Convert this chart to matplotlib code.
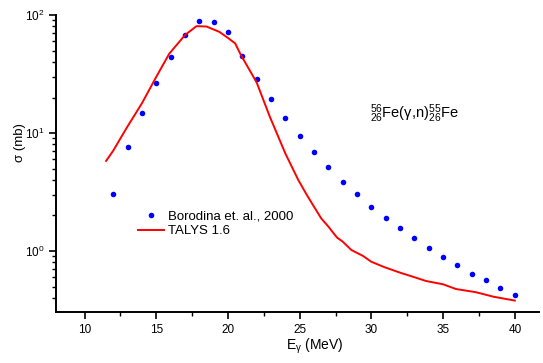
import numpy as np
import matplotlib
matplotlib.use("Agg")
import matplotlib.pyplot as plt
from matplotlib.ticker import LogLocator, MultipleLocator, NullFormatter

plt.rcParams['font.family'] = ['Liberation Sans', 'DejaVu Sans']
plt.rcParams['mathtext.fontset'] = 'custom'
plt.rcParams['mathtext.rm'] = 'Liberation Sans'
plt.rcParams['mathtext.it'] = 'Liberation Sans:italic'
plt.rcParams['mathtext.default'] = 'regular'

# Experimental data (Borodina et al., 2000)
exp_energy = [12, 13, 14, 15, 16, 17, 18, 19, 20, 21, 22, 23, 24, 25, 26,
              27, 28, 29, 30, 31, 32, 33, 34, 35, 36, 37, 38, 39, 40]
exp_sigma = [3.02, 7.57, 14.9, 26.4, 44.3, 67.7, 89.0, 86.7, 71.3, 45.0,
             28.9, 19.4, 13.4, 9.49, 6.9, 5.15, 3.87, 3.02, 2.37, 1.91,
             1.56, 1.28, 1.06, 0.895, 0.757, 0.643, 0.564, 0.483, 0.421]

# TALYS 1.6 calculation
talys_energy = [11.5, 12.0, 12.9, 14.0, 15.0, 15.9, 17.0, 17.8, 18.5, 19.4,
                20.0, 20.5, 20.9, 21.5, 22.0, 22.9, 24.0, 24.9, 25.5, 26.0,
                26.5, 27.0, 27.6, 28.0, 28.6, 29.4, 30.0, 30.9, 32.0, 32.9,
                33.8, 35.0, 35.9, 37.3, 38.5, 40.0]
talys_sigma = [5.8, 7.1, 10.9, 17.9, 30.0, 47.0, 67.7, 80.5, 80.0, 72.0,
               64.0, 57.5, 45.8, 34.2, 26.8, 13.9, 6.7, 4.0, 2.98, 2.37,
               1.89, 1.61, 1.30, 1.2, 1.02, 0.91, 0.81, 0.73, 0.655, 0.605,
               0.557, 0.522, 0.476, 0.447, 0.41, 0.38]

fig = plt.figure(figsize=(5.43, 3.63), dpi=100)
ax = fig.add_axes([0.103, 0.1405, 0.890, 0.818])

ax.semilogy(exp_energy, exp_sigma, 'o', color='#0000ff', markersize=4,
            markeredgewidth=0, label='Borodina et. al., 2000')
ax.semilogy(talys_energy, talys_sigma, '-', color='#ff0000', linewidth=1.4,
            label='TALYS 1.6')

ax.set_xlim(8, 41.7)
ax.set_ylim(0.304, 100)

ax.spines['top'].set_visible(False)
ax.spines['right'].set_visible(False)
ax.spines['left'].set_linewidth(1.4)
ax.spines['bottom'].set_linewidth(1.4)

ax.xaxis.set_major_locator(MultipleLocator(5))
ax.xaxis.set_minor_locator(MultipleLocator(2.5))
ax.yaxis.set_major_locator(LogLocator(base=10, numticks=10))
ax.yaxis.set_minor_locator(LogLocator(base=10, subs=np.arange(2, 10), numticks=10))
ax.yaxis.set_minor_formatter(NullFormatter())
ax.tick_params(which='major', direction='out', length=5, width=1.2, labelsize=8.5)
ax.tick_params(which='minor', direction='out', length=3, width=1.0)

ax.set_xlabel(r'E$_{\gamma}$ (MeV)', fontsize=10)
ax.set_ylabel('σ (mb)', fontsize=9.5)
ax.xaxis.set_label_coords(0.535, -0.084)
ax.yaxis.set_label_coords(-0.062, 0.572)

ax.text(0.65, 0.668, r'$^{56}_{26}$Fe($\gamma$,n)$^{55}_{26}$Fe',
        transform=ax.transAxes, fontsize=10.5, va='center', ha='left')

ax.legend(loc='upper left', bbox_to_anchor=(0.159, 0.36), frameon=False,
          fontsize=9.5, handlelength=2.0, handletextpad=0.3, labelspacing=0.2,
          borderaxespad=0)

fig.savefig('out.png', dpi=100)
